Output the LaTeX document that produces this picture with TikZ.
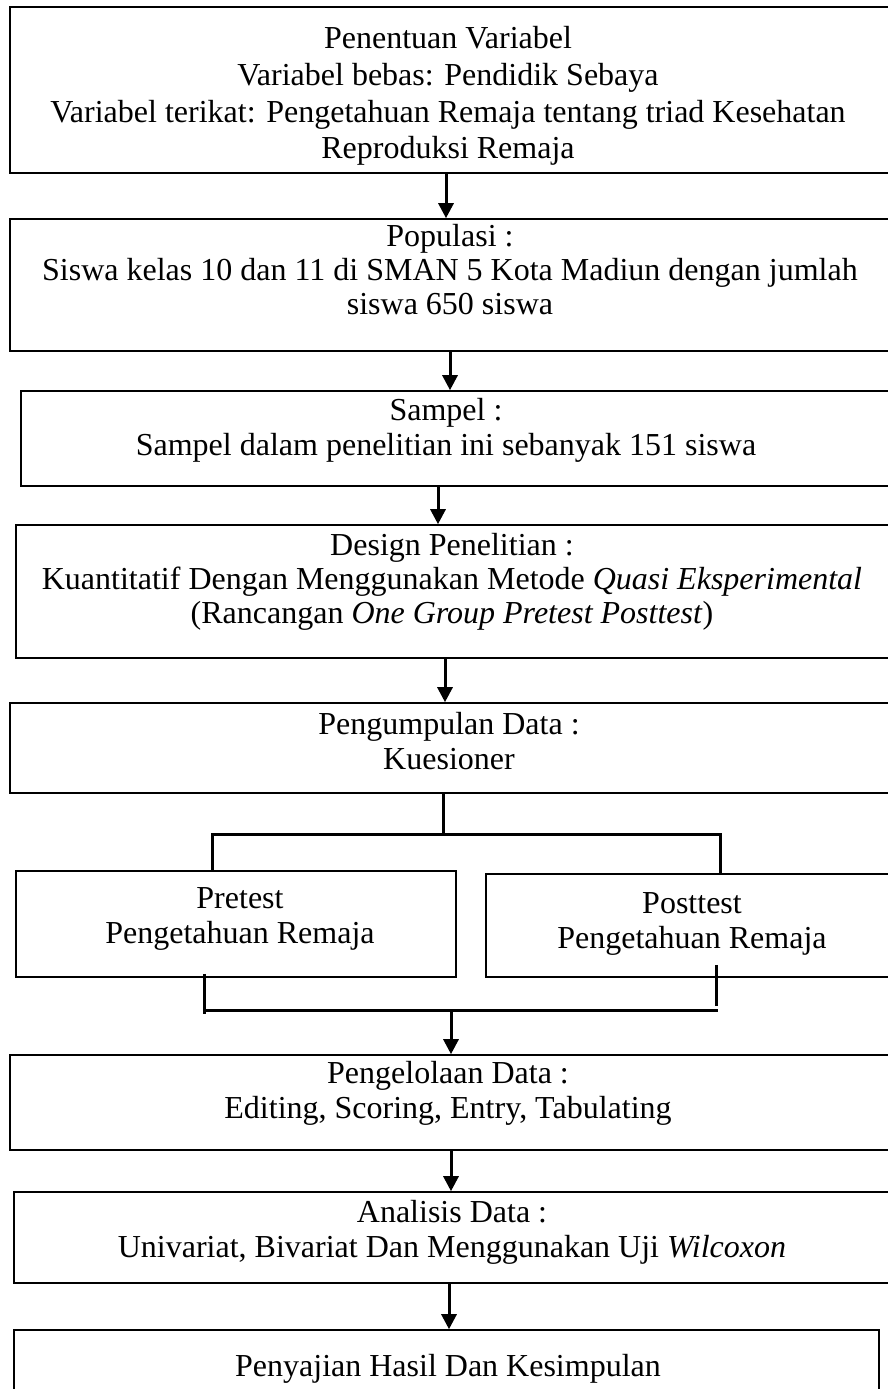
\documentclass[tikz,border=0pt]{standalone}
\usepackage{fontspec}
\setmainfont{Liberation Serif}
\usetikzlibrary{arrows.meta,calc}
\begin{document}
\begin{tikzpicture}[x=1pt,y=-1pt,
  box/.style={draw, line width=1.6pt, rectangle, inner sep=0pt},
  txt/.style={align=center, font=\fontsize{32}{35}\selectfont, inner sep=0pt},
  tight/.style={font=\fontsize{32}{34}\selectfont},
  loose/.style={font=\fontsize{32}{36.8}\selectfont},
  conn/.style={line width=3pt},
  arr/.style={line width=3pt, -{Triangle[width=15pt,length=15pt]}}]
\useasboundingbox (0,0) rectangle (888,1389);
% boxes
\node[box, minimum width=880pt, minimum height=166pt] (b1) at (450,90) {};
\node[box, minimum width=880pt, minimum height=132pt] (b2) at (450,285) {};
\node[box, minimum width=869pt, minimum height=95pt] (b3) at (455.5,438.5) {};
\node[box, minimum width=874pt, minimum height=133pt] (b4) at (453,591.5) {};
\node[box, minimum width=880pt, minimum height=90pt] (b5) at (450,748) {};
\node[box, minimum width=440pt, minimum height=106pt] (pre) at (236,924) {};
\node[box, minimum width=408pt, minimum height=103pt] (post) at (690,925.5) {};
\node[box, minimum width=880pt, minimum height=95pt] (b6) at (450,1102.5) {};
\node[box, minimum width=876pt, minimum height=91pt] (b7) at (452,1237.5) {};
\node[box, minimum width=865pt, minimum height=90pt] (b8) at (446.5,1375) {};
% texts
\node[txt, loose] (t1) at (448,96) {Penentuan Variabel\\Variabel bebas: Pendidik Sebaya\\Variabel terikat: Pengetahuan Remaja tentang triad Kesehatan\\Reproduksi Remaja};
\node[txt, tight] (t2) at (450,270) {Populasi :\\Siswa kelas 10 dan 11 di SMAN 5 Kota Madiun dengan jumlah\\siswa 650 siswa};
\node[txt] (t3) at (446,430) {Sampel :\\Sampel dalam penelitian ini sebanyak 151 siswa};
\node[txt, tight] (t4) at (452,582) {Design Penelitian :\\Kuantitatif Dengan Menggunakan Metode \textit{Quasi Eksperimental}\\(Rancangan \textit{One Group Pretest Posttest})};
\node[txt] (t5) at (449,741) {Pengumpulan Data :\\Kuesioner};
\node[txt] (tpre) at (240,919) {Pretest\\Pengetahuan Remaja};
\node[txt] (tpost) at (692,924) {Posttest\\Pengetahuan Remaja};
\node[txt] (t6) at (448,1093) {Pengelolaan Data :\\Editing, Scoring, Entry, Tabulating};
\node[txt] (t7) at (452,1232) {Analisis Data :\\Univariat, Bivariat Dan Menggunakan Uji \textit{Wilcoxon}};
\node[txt] (t8) at (448,1369) {Penyajian Hasil Dan Kesimpulan};
% connectors
\draw[arr] ([xshift=-4pt]b1.south) -- ([xshift=-4pt]b1.south |- b2.north);
\draw[arr] (b2.south) -- (b2.south |- b3.north);
\draw[arr] ([xshift=-17.5pt]b3.south) -- ([xshift=-17.5pt]b3.south |- b4.north);
\draw[arr] ([xshift=-8pt]b4.south) -- ([xshift=-8pt]b4.south |- b5.north);
% upper bracket
\coordinate (ja) at (443,834);
\coordinate (jl) at (212,834);
\coordinate (jr) at (720,834);
\draw[conn] (b5.south -| ja) -- (ja);
\draw[conn] (pre.north -| jl) -- (jl) -- (jr) -- (post.north -| jr);
% lower bracket
\coordinate (kl) at (204,1010);
\coordinate (kr) at (718,1010);
\coordinate (km) at (451,1010);
\coordinate (kle) at (204,1014);
\coordinate (kre) at (716,1006);
\draw[conn] ([yshift=4pt]pre.south -| kl) -- (kle);
\draw[conn] ([yshift=13pt]post.south -| kre) -- (kre);
\draw[conn] (kl) -- (kr);
\draw[arr] (km) -- (km |- b6.north);
\draw[arr] ([xshift=1pt]b6.south) -- ([xshift=1pt]b6.south |- b7.north);
\draw[arr] ([xshift=-3pt]b7.south) -- ([xshift=-3pt]b7.south |- b8.north);
\end{tikzpicture}
\end{document}
